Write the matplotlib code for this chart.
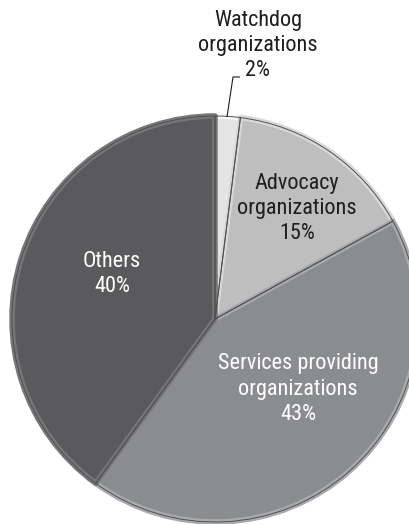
import numpy as np
import matplotlib
matplotlib.use("Agg")
import matplotlib.pyplot as plt
from matplotlib.patches import Wedge

# shares of organizations by type, clockwise from 12 o'clock
labels = ["Watchdog\norganizations", "Advocacy\norganizations",
          "Services providing\norganizations", "Others"]
shares = [2, 15, 43, 40]
colors = ["#e4e4e4", "#bebebe", "#8b8c8f", "#5a5a5c"]
highlight = ["#fafafa", "#d8d8d8", "#a9aaad", "#767678"]
text_colors = ["#1e1e1e", "#1e1e1e", "#ffffff", "#ffffff"]

W, H = 410, 524
fig = plt.figure(figsize=(W / 100, H / 100), dpi=100)
ax = fig.add_axes([0, 0, 1, 1])

cx, cy, R = 215, H - 319, 203
wedges, _ = ax.pie(shares, colors=colors, startangle=90, counterclock=False,
                   center=(cx, cy), radius=R,
                   wedgeprops=dict(linewidth=0))

# soft bevel: a light band drawn on each wedge's edge, clipped to the wedge
for w, hl in zip(wedges, highlight):
    w.set_edgecolor(hl)
    w.set_linewidth(4)
    w.set_clip_path(w)
    w.set_joinstyle("round")

# thin dark seams and rim
for w in wedges:
    seam = Wedge((cx, cy), R, w.theta1, w.theta2, facecolor="none",
                 edgecolor="#505052", linewidth=0.7)
    ax.add_patch(seam)

font = ["Roboto Condensed", "DejaVu Sans"]
fs = 16

# label positions (x, y in pixels from top-left)
label_pos = [(258, 45), (297, 208), (298, 389), (112, 274)]
for i, (lab, s) in enumerate(zip(labels, shares)):
    x, y = label_pos[i]
    ax.text(x, H - y, f"{lab}\n{s}%", ha="center", va="center",
            fontsize=fs, family=font, color=text_colors[i], linespacing=1.25)

# leader line for the thin watchdog slice
ax.plot([240, 233, 227], [H - 77, H - 77, H - 117], color="#1e1e1e",
        linewidth=0.8, solid_capstyle="butt")

ax.set_xlim(0, W)
ax.set_ylim(0, H)
ax.set_aspect("equal")
ax.axis("off")

fig.savefig("out.png", dpi=100, facecolor="white")
